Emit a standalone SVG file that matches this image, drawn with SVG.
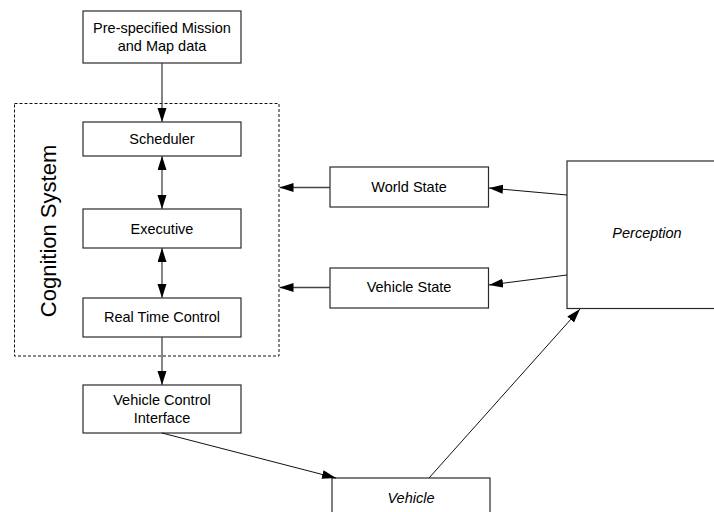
<svg xmlns="http://www.w3.org/2000/svg" width="714" height="512" viewBox="0 0 714 512">
  <style>
    .box { fill: #ffffff; stroke: #2a2a2a; stroke-width: 1.2; }
    .lbl { font-family: "Liberation Sans", Arial, sans-serif; font-size: 14.5px; fill: #000; text-anchor: middle; }
    .it { font-style: italic; }
    .conn { fill: none; stroke: #444; stroke-width: 1.3; }
    .thin { fill: none; stroke: #111; stroke-width: 1; }
  </style>
  <defs>
    <marker id="ah" markerUnits="userSpaceOnUse" markerWidth="15" markerHeight="10" refX="14" refY="4.5" orient="auto-start-reverse">
      <path d="M0,0 L14,4.5 L0,9 z" fill="#000"/>
    </marker>
  </defs>
  <rect width="714" height="512" fill="#ffffff"/>

  <!-- Cognition system boundary -->
  <g id="cognition-system">
    <rect x="14.5" y="103.5" width="264.5" height="252.5" fill="none" stroke="#111" stroke-width="1" stroke-dasharray="3,2"/>
    <text class="lbl" font-size="22" style="font-size:22px" transform="translate(56,231) rotate(-90)">Cognition System</text>
  </g>

  <g id="mission">
    <rect class="box" x="83" y="11" width="158" height="52"/>
    <text class="lbl" x="162" y="33">Pre-specified Mission</text>
    <text class="lbl" x="162" y="51">and Map data</text>
  </g>
  <g id="scheduler">
    <rect class="box" x="83" y="122" width="158" height="34"/>
    <text class="lbl" x="162" y="143.5">Scheduler</text>
  </g>
  <g id="executive">
    <rect class="box" x="83" y="209" width="158" height="39"/>
    <text class="lbl" x="162" y="233.5">Executive</text>
  </g>
  <g id="real-time-control">
    <rect class="box" x="83" y="298" width="158" height="39"/>
    <text class="lbl" x="162" y="322">Real Time Control</text>
  </g>
  <g id="vehicle-control-interface">
    <rect class="box" x="83" y="385" width="158" height="48"/>
    <text class="lbl" x="162" y="404.5">Vehicle Control</text>
    <text class="lbl" x="162" y="422.5">Interface</text>
  </g>
  <g id="world-state">
    <rect class="box" x="330" y="167" width="158.5" height="40"/>
    <text class="lbl" x="409" y="192">World State</text>
  </g>
  <g id="vehicle-state">
    <rect class="box" x="330" y="268" width="158.5" height="40"/>
    <text class="lbl" x="409" y="292">Vehicle State</text>
  </g>
  <g id="perception">
    <rect class="box" x="567" y="161" width="160" height="147.5"/>
    <text class="lbl it" x="647" y="238">Perception</text>
  </g>
  <g id="vehicle">
    <rect class="box" x="332" y="478" width="158" height="40"/>
    <text class="lbl it" x="411" y="503">Vehicle</text>
  </g>

  <!-- Connectors -->
  <g id="connectors">
    <line class="conn" x1="162" y1="63" x2="162" y2="122" marker-end="url(#ah)"/>
    <line class="conn" x1="162" y1="156" x2="162" y2="209" marker-start="url(#ah)" marker-end="url(#ah)"/>
    <line class="conn" x1="162" y1="248" x2="162" y2="298" marker-start="url(#ah)" marker-end="url(#ah)"/>
    <line class="conn" x1="162" y1="337" x2="162" y2="385" marker-end="url(#ah)"/>
    <line class="conn" x1="330" y1="187.5" x2="279.5" y2="187.5" marker-end="url(#ah)"/>
    <line class="conn" x1="330" y1="287.5" x2="279.5" y2="287.5" marker-end="url(#ah)"/>
    <line class="thin" x1="567" y1="195" x2="489" y2="188" marker-end="url(#ah)"/>
    <line class="thin" x1="567" y1="275" x2="489" y2="285" marker-end="url(#ah)"/>
    <line class="thin" x1="162" y1="433" x2="336" y2="478" marker-end="url(#ah)"/>
    <line class="thin" x1="429" y1="478" x2="580" y2="309" marker-end="url(#ah)"/>
  </g>
</svg>
